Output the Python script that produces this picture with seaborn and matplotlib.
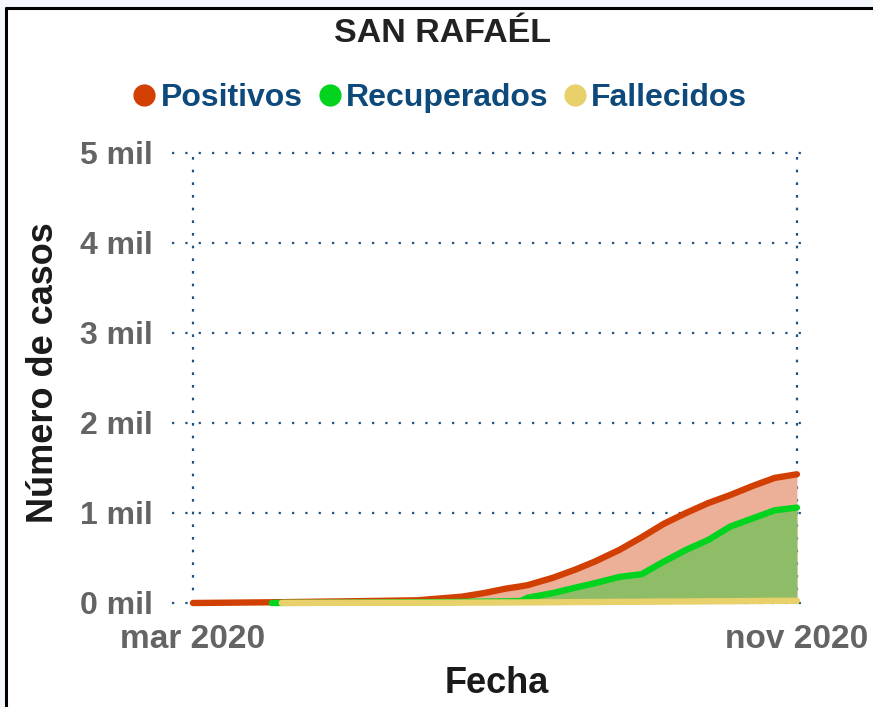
import pandas as pd
import matplotlib.pyplot as plt
from matplotlib.lines import Line2D
from matplotlib.patches import Rectangle
import seaborn as sns

# datos
fechas = ["2020-03-01", "2020-04-02", "2020-04-06", "2020-05-01", "2020-05-31",
          "2020-06-18", "2020-06-27", "2020-07-06", "2020-07-12", "2020-07-15",
          "2020-07-25", "2020-08-03", "2020-08-11", "2020-08-21", "2020-08-30",
          "2020-09-08", "2020-09-17", "2020-09-26", "2020-10-05", "2020-10-14",
          "2020-10-23", "2020-11-01"]
positivos = [0, 8, 9, 18, 30, 70, 110, 160, 185, 200, 280, 370, 460, 590, 730,
             880, 1000, 1110, 1200, 1300, 1390, 1430]
recuperados = [None, 0, 1, 3, 8, 12, 15, 18, 22, 60, 110, 170, 220, 290, 320,
               460, 590, 700, 850, 940, 1030, 1060]
fallecidos = [None, None, 1, 2, 3, 4, 5, 6, 6, 7, 8, 10, 11, 13, 14,
              16, 17, 19, 20, 22, 24, 25]
yticks = [0, 1000, 2000, 3000, 4000, 5000]
ytick_labels = ["0 mil", "1 mil", "2 mil", "3 mil", "4 mil", "5 mil"]
xticks = ["2020-03-01", "2020-11-01"]
xtick_labels = ["mar 2020", "nov 2020"]

series = {"Positivos": positivos, "Recuperados": recuperados, "Fallecidos": fallecidos}
colores = {"Positivos": "#d23f02", "Recuperados": "#02d31f", "Fallecidos": "#e8d06a"}
rellenos = {"Positivos": "#ecb098", "Recuperados": "#8fbc67", "Fallecidos": "#eed98a"}
orden = ["Positivos", "Recuperados", "Fallecidos"]

df = pd.DataFrame({"Fecha": pd.to_datetime(fechas), **series})
largo = df.melt(id_vars="Fecha", var_name="Tipo", value_name="Casos").dropna()

sns.set_theme(style="white")
plt.rcParams["font.family"] = ["Liberation Sans", "DejaVu Sans"]
plt.rcParams["font.weight"] = "bold"

fig = plt.figure(figsize=(8.73, 7.07), dpi=100)
fig.patch.set_facecolor("white")
# marco recortado de la imagen original
fig.patches.append(Rectangle((0, 1 - 7 / 707), 1, 7 / 707, transform=fig.transFigure,
                             facecolor="#f3f7fd", edgecolor="none", zorder=0))
fig.patches.append(Rectangle((0, 0), 5 / 873, 1, transform=fig.transFigure,
                             facecolor="#f3f7fd", edgecolor="none", zorder=0))
fig.add_artist(Line2D([6 / 873, 1], [1 - 8 / 707] * 2, transform=fig.transFigure,
                      color="black", lw=2.2))
fig.add_artist(Line2D([6 / 873] * 2, [0, 1 - 8 / 707], transform=fig.transFigure,
                      color="black", lw=2.2))

ax = fig.add_axes([172 / 873, 1 - 603 / 707, 636 / 873, 450 / 707])

# areas rellenas
for nombre in orden:
    sub = largo[largo["Tipo"] == nombre]
    ax.fill_between(sub["Fecha"], 0, sub["Casos"], color=rellenos[nombre],
                    lw=0, zorder=1)

sns.lineplot(data=largo, x="Fecha", y="Casos", hue="Tipo", palette=colores,
             hue_order=orden, ax=ax, legend=False)
for linea in ax.get_lines():
    linea.set_linewidth(4.6)
    linea.set_solid_capstyle("round")
    linea.set_zorder(3)
    linea.set_clip_on(False)

x0 = pd.Timestamp("2020-03-01") - pd.Timedelta(days=8.5)
x1 = pd.Timestamp("2020-11-01") + pd.Timedelta(days=4.5)
ax.set_xlim(x0, x1)
ax.set_ylim(0, 5000)

grid_color = "#1b5283"
for y in yticks:
    ax.axhline(y, color=grid_color, lw=1.6, ls=(0, (1, 5)), zorder=0, clip_on=False)
for x in xticks:
    ax.axvline(pd.Timestamp(x), color=grid_color, lw=1.6, ls=(0, (1.2, 4.5)), zorder=0)

for s in ax.spines.values():
    s.set_visible(False)

ax.set_yticks(yticks)
ax.set_yticklabels(ytick_labels, fontsize=23, color="#646464", fontweight="bold")
ax.set_xticks(pd.to_datetime(xticks))
ax.set_xticklabels(xtick_labels, fontsize=24, color="#646464", fontweight="bold")
ax.tick_params(axis="y", length=0, pad=14)
ax.tick_params(axis="x", length=0, pad=15)

ax.set_xlabel("Fecha", fontsize=26, fontweight="bold", color="#1a1a1a")
ax.set_ylabel("Número de casos", fontsize=26, fontweight="bold", color="#1a1a1a")
ax.xaxis.set_label_coords((497 - 172) / 636, -(666 - 603) / 450)
ax.yaxis.set_label_coords(-(172 - 61) / 636, (603 - 373) / 450)

fig.text(442 / 873, 1 - 33 / 707, "SAN RAFAÉL", ha="center", va="center",
         fontsize=24.5, fontweight="bold", color="#222222")

handles = [Line2D([], [], ls="none", marker="o", markersize=16,
                  markerfacecolor=colores[n], markeredgecolor="none")
           for n in orden]
leg = fig.legend(handles, orden, ncol=3,
                 loc="center", bbox_to_anchor=(438 / 873, 1 - 98 / 707),
                 frameon=False, handletextpad=0.0, columnspacing=0.35,
                 handlelength=1.0, prop={"size": 23, "weight": "bold"})
for t in leg.get_texts():
    t.set_color("#0d4a7b")

fig.savefig("out.png", dpi=100)
